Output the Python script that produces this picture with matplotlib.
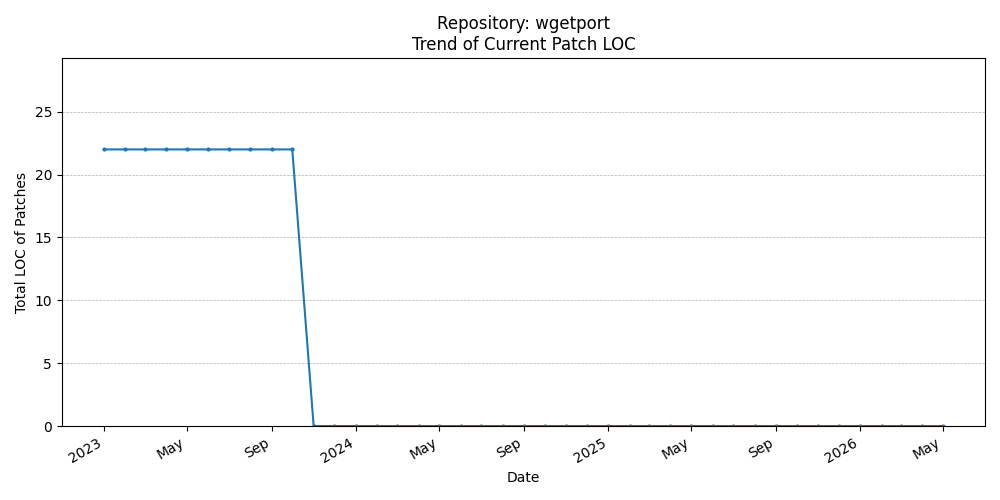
import matplotlib
matplotlib.use("Agg")
import matplotlib.pyplot as plt
import matplotlib.dates as mdates
import pandas as pd

# monthly totals, Jan 2023 .. May 2026
dates = pd.date_range("2023-01-01", "2026-05-01", freq="MS")
loc_values = [22] * 10 + [0] * 31


def month_label(x, pos=None):
    d = mdates.num2date(x)
    return d.strftime("%Y") if d.month == 1 else d.strftime("%b")


fig, ax = plt.subplots(figsize=(10, 5))
ax.plot(dates, loc_values, marker="o", markersize=2, linestyle="-", color="#1f77b4")
ax.set_title("Repository: wgetport\nTrend of Current Patch LOC")
ax.set_xlabel("Date")
ax.set_ylabel("Total LOC of Patches")
ax.set_ylim(0, max(loc_values) * 1.33)
ax.grid(axis="y", linestyle="--", linewidth=0.5)
ax.xaxis.set_major_locator(mdates.MonthLocator(bymonth=[1, 5, 9]))
ax.xaxis.set_major_formatter(plt.FuncFormatter(month_label))
fig.autofmt_xdate()
plt.tight_layout()
plt.savefig("out.png", dpi=100)
